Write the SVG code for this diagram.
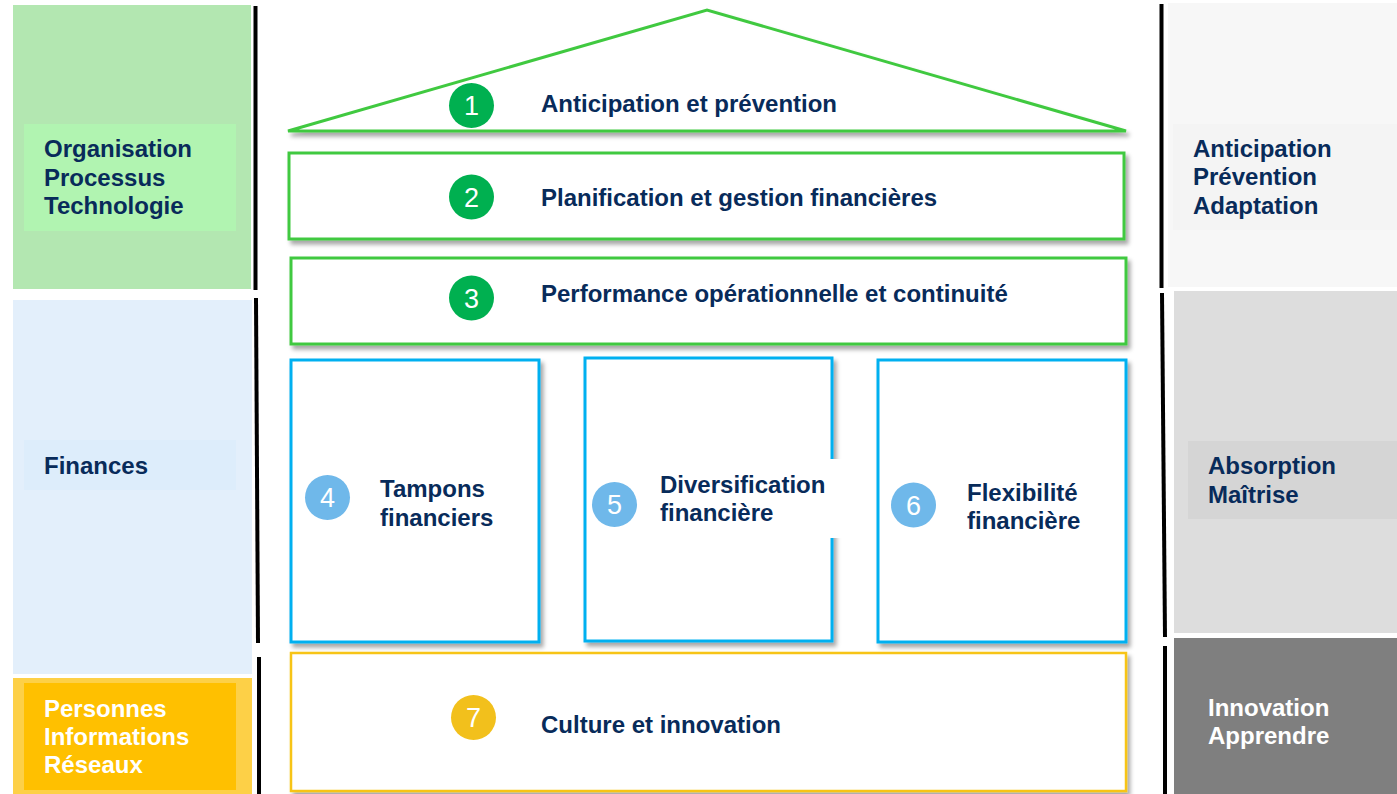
<svg xmlns="http://www.w3.org/2000/svg" width="1397" height="794" viewBox="0 0 1397 794">
<defs>
<filter id="sh" x="-5%" y="-5%" width="115%" height="120%">
<feDropShadow dx="3" dy="4" stdDeviation="2" flood-color="#000" flood-opacity="0.35"/>
</filter>
<style>
.t{font-family:"Liberation Sans",Arial,sans-serif;font-weight:bold;font-size:24px;fill:#082b5a}
.w{fill:#ffffff}
.n{font-family:"Liberation Sans",Arial,sans-serif;font-size:27px;fill:#ffffff;text-anchor:middle}
.g{fill:#ffffff;stroke:#40c940;stroke-width:3}
.b{fill:#ffffff;stroke:#00b0f0;stroke-width:3}
.y{fill:#ffffff;stroke:#f7c416;stroke-width:2.5}
.sep{stroke:#000;stroke-width:4;fill:none}
</style>
</defs>
<rect width="1397" height="794" fill="#ffffff"/>

<g id="left-org">
<rect x="13" y="5" width="238" height="284" fill="#b3e7b1"/>
<rect x="24" y="124" width="212" height="107" fill="#b1f4b1"/>
<text class="t" x="44" y="157">Organisation</text>
<text class="t" x="44" y="186">Processus</text>
<text class="t" x="44" y="214">Technologie</text>
</g>
<g id="left-finances">
<rect x="13" y="300" width="239" height="374" fill="#e3effb"/>
<rect x="24" y="440" width="212" height="50" fill="#ddedfb"/>
<text class="t" x="44" y="474">Finances</text>
</g>
<g id="left-personnes">
<rect x="13" y="678" width="239" height="116" fill="#fdd047"/>
<rect x="24" y="683" width="212" height="107" fill="#ffc000"/>
<text class="t w" x="44" y="717">Personnes</text>
<text class="t w" x="44" y="745">Informations</text>
<text class="t w" x="44" y="773">Réseaux</text>
</g>

<g id="right-anticipation">
<rect x="1168" y="3" width="229" height="284" fill="#f7f7f7"/>
<rect x="1173" y="124" width="224" height="106" fill="#f4f4f4"/>
<text class="t" x="1193" y="157">Anticipation</text>
<text class="t" x="1193" y="185">Prévention</text>
<text class="t" x="1193" y="214">Adaptation</text>
</g>
<g id="right-absorption">
<rect x="1174" y="291" width="223" height="342" fill="#dddddd"/>
<rect x="1188" y="441" width="209" height="78" fill="#d5d5d5"/>
<text class="t" x="1208" y="474">Absorption</text>
<text class="t" x="1208" y="503">Maîtrise</text>
</g>
<g id="right-innovation">
<rect x="1174" y="638" width="223" height="156" fill="#7f7f7f"/>
<text class="t w" x="1208" y="716">Innovation</text>
<text class="t w" x="1208" y="744">Apprendre</text>
</g>

<g id="connectors">
<line class="sep" x1="255.5" y1="6" x2="255.5" y2="290"/>
<line class="sep" x1="256" y1="298" x2="258" y2="643"/>
<line class="sep" x1="259" y1="657" x2="259" y2="794"/>
<line class="sep" x1="1161.5" y1="4" x2="1161.5" y2="288"/>
<line class="sep" x1="1162" y1="293" x2="1165" y2="637"/>
<line class="sep" x1="1165" y1="646" x2="1165" y2="794"/>
</g>

<g id="node1">
<polygon class="g" points="288,131 707,10 1126,131" filter="url(#sh)"/>
<circle cx="471.5" cy="105.5" r="22.5" fill="#00b050"/>
<text class="n" x="471.5" y="115">1</text>
<text class="t" x="541" y="112">Anticipation et prévention</text>
</g>
<g id="node2">
<rect class="g" x="289" y="153" width="835" height="86" filter="url(#sh)"/>
<circle cx="471.5" cy="197" r="22.5" fill="#00b050"/>
<text class="n" x="471.5" y="206.5">2</text>
<text class="t" x="541" y="205.5">Planification et gestion financières</text>
</g>
<g id="node3">
<rect class="g" x="291" y="258" width="835" height="86" filter="url(#sh)"/>
<circle cx="471.5" cy="298" r="22.5" fill="#00b050"/>
<text class="n" x="471.5" y="307.5">3</text>
<text class="t" x="541" y="302">Performance opérationnelle et continuité</text>
</g>
<g id="node4">
<rect class="b" x="291" y="360" width="248" height="282" filter="url(#sh)"/>
<circle cx="327.5" cy="497.5" r="22.5" fill="#6fb8ea"/>
<text class="n" x="327.5" y="507">4</text>
<text class="t" x="380" y="497">Tampons</text>
<text class="t" x="380" y="526">financiers</text>
</g>
<g id="node5">
<rect class="b" x="585" y="358" width="247" height="283" filter="url(#sh)"/>
<rect x="650" y="459" width="195" height="79" fill="#ffffff"/>
<circle cx="614.5" cy="504.5" r="22.5" fill="#6fb8ea"/>
<text class="n" x="614.5" y="514">5</text>
<text class="t" x="660" y="493">Diversification</text>
<text class="t" x="660" y="521">financière</text>
</g>
<g id="node6">
<rect class="b" x="878" y="360" width="248" height="282" filter="url(#sh)"/>
<circle cx="913.5" cy="505" r="22.5" fill="#6fb8ea"/>
<text class="n" x="913.5" y="514.5">6</text>
<text class="t" x="967" y="501">Flexibilité</text>
<text class="t" x="967" y="529">financière</text>
</g>
<g id="node7">
<rect class="y" x="291" y="653" width="835" height="138" filter="url(#sh)"/>
<circle cx="473.5" cy="717.5" r="22.5" fill="#f2c01c"/>
<text class="n" x="473.5" y="727">7</text>
<text class="t" x="541" y="733">Culture et innovation</text>
</g>
</svg>
